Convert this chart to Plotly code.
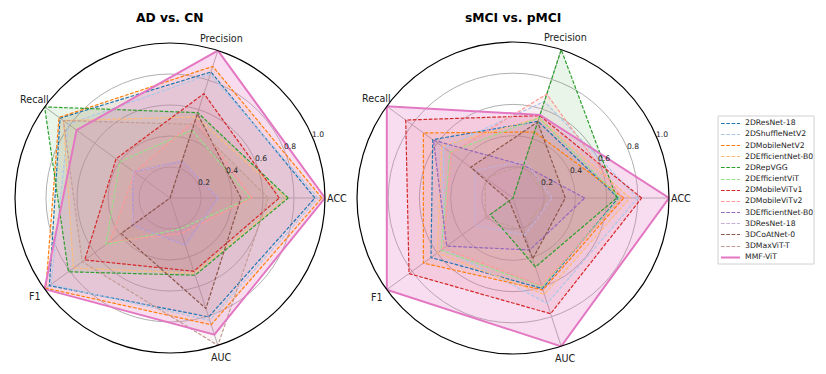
import math
import plotly.graph_objects as go

metrics = ["ACC", "Precision", "Recall", "F1", "AUC"]
angles = [0, 72, 144, 216, 288]
radial_ticks = [0.2, 0.4, 0.6, 0.8, 1.0]
radial_tick_labels = ["0.2", "0.4", "0.6", "0.8", "1.0"]

models = ["2DResNet-18", "2DShuffleNetV2", "2DMobileNetV2", "2DEfficientNet-B0",
          "2DRepVGG", "2DEfficientViT", "2DMobileViTv1", "2DMobileViTv2",
          "3DEfficientNet-B0", "3DResNet-18", "3DCoAtNet-0", "3DMaxViT-T", "MMF-ViT"]

colors = ["#1f77b4", "#aec7e8", "#ff7f0e", "#ffbb78", "#2ca02c", "#98df8a",
          "#d62728", "#ff9896", "#9467bd", "#c5b0d5", "#8c564b", "#c49c94", "#e377c2"]

# AD vs. CN (one value per model, in model order)
ad_acc = [0.935, 0.955, 0.98, 0.75, 0.763, 0.516, 0.705, 0.53, 0.31, 0.31, 0.458, 0.634, 1.0]
ad_precision = [0.855, 0.84, 0.893, 0.55, 0.579, 0.46, 0.708, 0.53, 0.25, 0.25, 0.572, 0.50, 1.0]
ad_recall = [0.877, 0.81, 0.885, 0.85, 1.0, 0.40, 0.43, 0.28, 0.29, 0.29, 0.0, 0.85, 0.745]
ad_f1 = [0.962, 0.95, 0.99, 0.77, 0.81, 0.51, 0.68, 0.48, 0.30, 0.30, 0.39, 0.70, 1.0]
ad_auc = [0.807, 0.83, 0.86, 0.51, 0.524, 0.21, 0.497, 0.24, 0.32, 0.32, 0.75, 1.0, 0.927]

# sMCI vs. pMCI
mci_acc = [0.675, 0.80, 0.71, 0.75, 0.665, 0.685, 0.825, 0.70, 0.46, 0.25, 0.335, 0.22, 1.0]
mci_precision = [0.517, 0.65, 0.445, 0.54, 1.0, 0.54, 0.555, 0.70, 0.22, 0.25, 0.512, 0.22, 0.56]
mci_recall = [0.636, 0.55, 0.71, 0.565, 0.0, 0.50, 0.85, 0.49, 0.63, 0.30, 0.335, 0.22, 1.0]
mci_f1 = [0.65, 0.55, 0.71, 0.60, 0.18, 0.57, 0.824, 0.55, 0.525, 0.30, 0.03, 0.22, 1.0]
mci_auc = [0.61, 0.71, 0.62, 0.65, 0.465, 0.60, 0.78, 0.59, 0.35, 0.25, 0.41, 0.22, 1.0]

titles = ["<b>AD vs. CN</b>", "<b>sMCI vs. pMCI</b>"]

W, H = 826, 374
# pixel boxes of the two polar areas: (left, top, size)
boxes = [(15, 43, 310), (357, 42, 312)]

tasks = [
    ("polar", [ad_acc, ad_precision, ad_recall, ad_f1, ad_auc]),
    ("polar2", [mci_acc, mci_precision, mci_recall, mci_f1, mci_auc]),
]

FONT = "DejaVu Sans"
DASH = "3.7px,1.6px"


def rgba(hex_color, a):
    h = hex_color.lstrip("#")
    r, g, b = int(h[0:2], 16), int(h[2:4], 16), int(h[4:6], 16)
    return f"rgba({r},{g},{b},{a})"


def px(x):
    return x / W


def py(y):
    return 1 - y / H


fig = go.Figure()
for ti, (sub, cols) in enumerate(tasks):
    for i, name in enumerate(models):
        vals = [c[i] for c in cols]
        r = vals + [vals[0]]
        th = angles + [angles[0]]
        is_main = name == "MMF-ViT"
        fig.add_trace(go.Scatterpolar(
            r=r, theta=th, subplot=sub, mode="lines", fill="toself",
            fillcolor=rgba(colors[i], 0.25 if is_main else 0.1),
            line=dict(width=0, color=rgba(colors[i], 0)),
            showlegend=False, hoverinfo="skip"))
    for i, name in enumerate(models):
        vals = [c[i] for c in cols]
        r = vals + [vals[0]]
        th = angles + [angles[0]]
        is_main = name == "MMF-ViT"
        fig.add_trace(go.Scatterpolar(
            r=r, theta=th, subplot=sub, mode="lines", name=name,
            showlegend=False,
            line=dict(color=colors[i], width=2 if is_main else 1.2,
                      dash="solid" if is_main else DASH)))

polar_common = dict(
    bgcolor="white",
    radialaxis=dict(range=[0, 1.0], tickvals=radial_ticks, showticklabels=False,
                    showline=False, ticks="", gridcolor="#b0b0b0", gridwidth=1),
    angularaxis=dict(tickmode="array", tickvals=angles, showticklabels=False,
                     rotation=0, direction="counterclockwise", thetaunit="degrees",
                     showline=True, linecolor="black", linewidth=1.2,
                     gridcolor="#b0b0b0", gridwidth=1, ticks=""),
)

annotations = []
shapes = []
for (left, top, size), title in zip(boxes, titles):
    cx, cy, R = left + size / 2, top + size / 2, size / 2
    annotations.append(dict(text=title, x=px(cx), y=py(18), xref="paper", yref="paper",
                            xanchor="center", yanchor="middle", showarrow=False,
                            font=dict(size=12.3, family=FONT, color="black")))
    for ang, lab in zip(angles, metrics):
        a = math.radians(ang)
        d = R * 1.08
        annotations.append(dict(text=lab, x=px(cx + d * math.cos(a)), y=py(cy - d * math.sin(a)),
                                xref="paper", yref="paper", showarrow=False,
                                xanchor="center", yanchor="middle",
                                font=dict(size=9.6, family=FONT, color="#222")))
    a = math.radians(22.5)
    for tv, tl in zip(radial_ticks, radial_tick_labels):
        d = tv * R
        annotations.append(dict(text=tl, x=px(cx + d * math.cos(a) + 5), y=py(cy - d * math.sin(a) - 4),
                                xref="paper", yref="paper", showarrow=False,
                                xanchor="center", yanchor="middle",
                                font=dict(size=7.6, family=FONT, color="#222")))

# legend drawn as shapes + text
lg_left, lg_top, lg_right, lg_bottom = 718, 116, 814, 264
shapes.append(dict(type="rect", xref="paper", yref="paper",
                   x0=px(lg_left), x1=px(lg_right), y0=py(lg_bottom), y1=py(lg_top),
                   line=dict(color="#d0d0d0", width=1), fillcolor="white", layer="above"))
row0, step = 122.7, 11.17
for i, name in enumerate(models):
    yy = round(row0 + i * step) + 0.5
    is_main = name == "MMF-ViT"
    shapes.append(dict(type="line", xref="paper", yref="paper", layer="above",
                       x0=px(721), x1=px(740), y0=py(yy), y1=py(yy),
                       line=dict(color=colors[i], width=2 if is_main else 1.2,
                                 dash="solid" if is_main else DASH)))
    annotations.append(dict(text=name, x=px(743), y=py(row0 + i * step), xref="paper", yref="paper",
                            showarrow=False, xanchor="left", yanchor="middle",
                            font=dict(size=7.7, family=FONT, color="#222")))

fig.update_layout(
    width=W, height=H,
    margin=dict(l=0, r=0, t=0, b=0),
    paper_bgcolor="white", plot_bgcolor="white",
    font=dict(family=FONT, color="#222"),
    showlegend=False,
    polar=dict(domain=dict(x=[px(boxes[0][0]), px(boxes[0][0] + boxes[0][2])],
                           y=[py(boxes[0][1] + boxes[0][2]), py(boxes[0][1])]), **polar_common),
    polar2=dict(domain=dict(x=[px(boxes[1][0]), px(boxes[1][0] + boxes[1][2])],
                            y=[py(boxes[1][1] + boxes[1][2]), py(boxes[1][1])]), **polar_common),
    annotations=annotations,
    shapes=shapes,
)

fig.write_html(
    "out.html",
    config={"displayModeBar": False, "staticPlot": True},
    post_script="document.documentElement.style.margin='0';document.body.style.margin='0';"
                "document.body.style.overflow='hidden';",
)
